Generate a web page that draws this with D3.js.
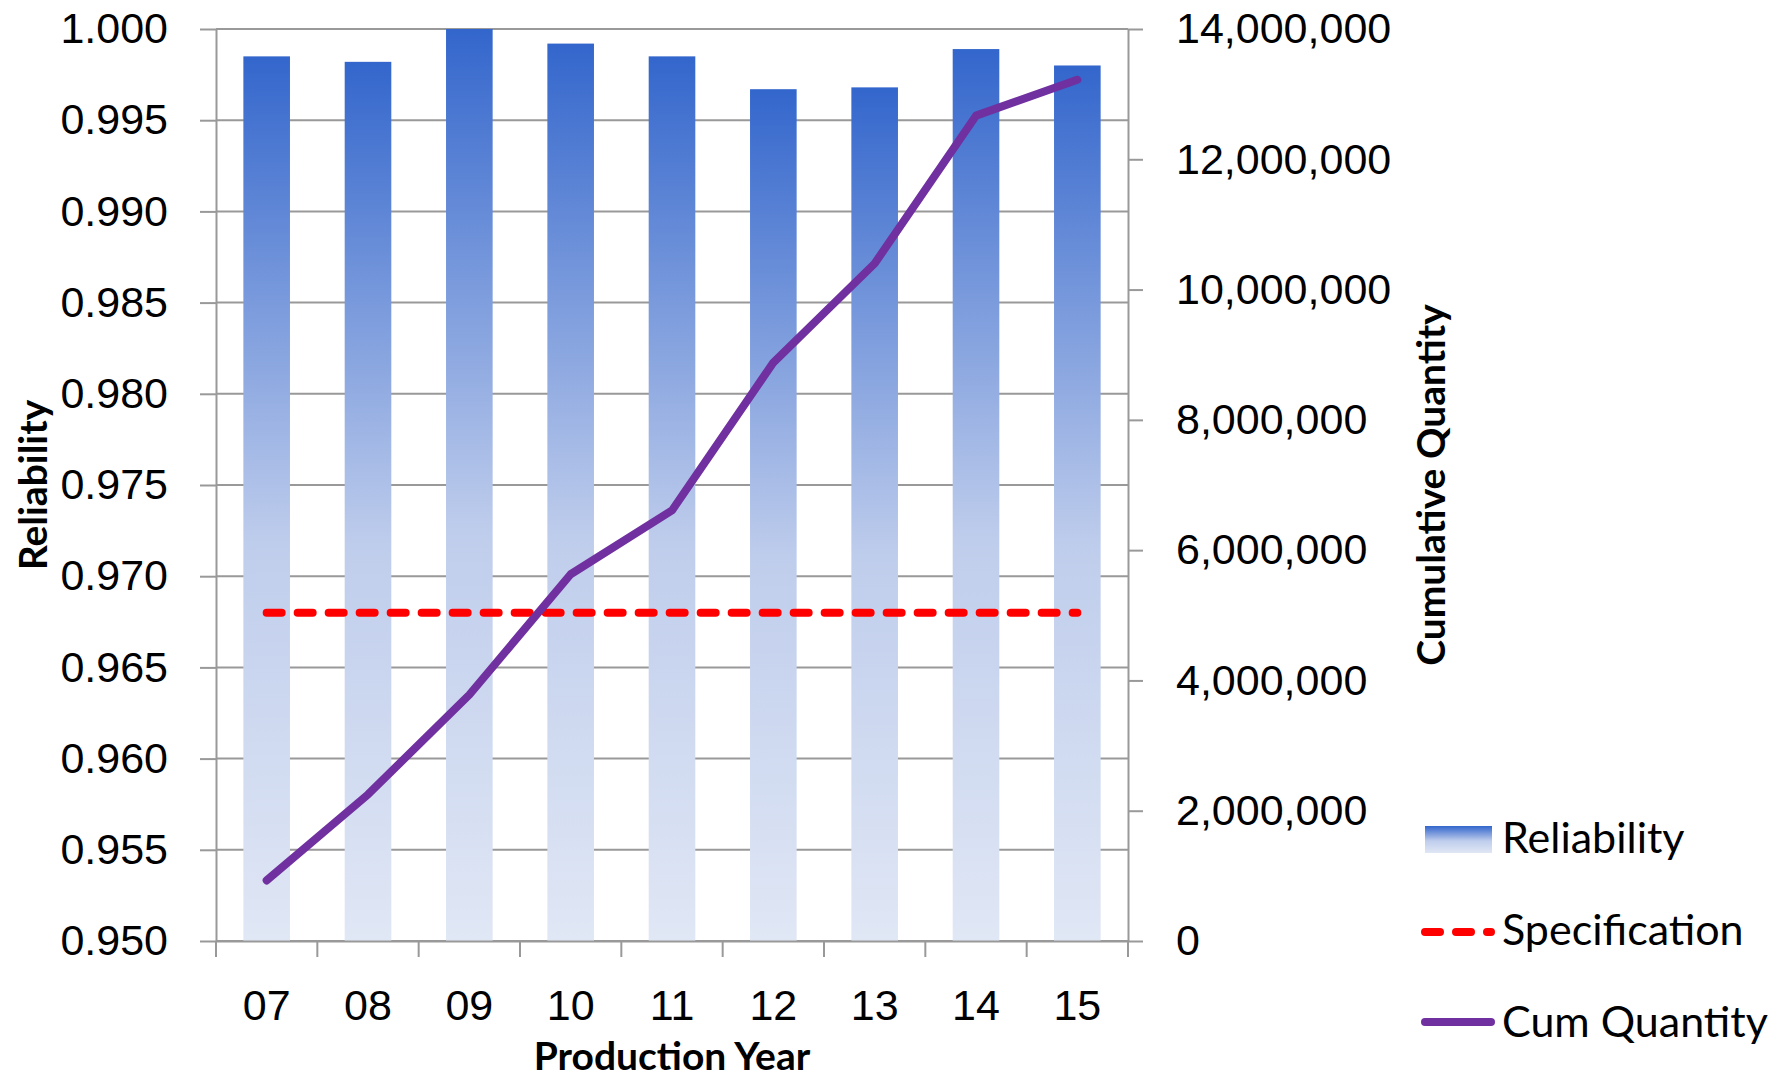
<!DOCTYPE html>
<html>
<head>
<meta charset="utf-8">
<script src="https://cdn.jsdelivr.net/npm/d3@7"></script>
<style>
  body { margin: 0; background: #fff; }
  svg { display: block; font-family: Lato, "Open Sans", sans-serif; }
  .axis path, .axis line { stroke: #999; stroke-width: 2; }
  .axis text { fill: #000; font-size: 43px; }
</style>
</head>
<body>
<svg id="chart" width="1787" height="1081"></svg>
<script>
  "use strict";

  /***** Data *****/
  var years = ["07", "08", "09", "10", "11", "12", "13", "14", "15"];
  var reliability = [0.9985, 0.9982, 1.0000, 0.9992, 0.9985, 0.9967, 0.9968, 0.9989, 0.9980];
  var specification = [0.968, 0.968, 0.968, 0.968, 0.968, 0.968, 0.968, 0.968, 0.968];
  var cumQuantity = [930000, 2250000, 3780000, 5630000, 6610000, 8880000, 10400000, 12670000, 13220000];
  var leftTicks = [0.950, 0.955, 0.960, 0.965, 0.970, 0.975, 0.980, 0.985, 0.990, 0.995, 1.000];
  var rightTicks = [0, 2000000, 4000000, 6000000, 8000000, 10000000, 12000000, 14000000];
  var legendLabels = ["Reliability", "Specification", "Cum Quantity"];

  /***** Configuration *****/
  var margin = {top: 29, right: 659, bottom: 140, left: 216},
    width = 1787 - margin.left - margin.right,
    height = 1081 - margin.top - margin.bottom;

  var svg = d3.select("#chart");

  // Bar gradient (dark blue on top, fading to pale blue)
  var defs = svg.append("defs");
  var grad = defs.append("linearGradient")
    .attr("id", "barGrad")
    .attr("x1", 0).attr("y1", 0).attr("x2", 0).attr("y2", 1);
  grad.append("stop").attr("offset", "0%").attr("stop-color", "#3366cc");
  grad.append("stop").attr("offset", "55%").attr("stop-color", "#bfcdec");
  grad.append("stop").attr("offset", "100%").attr("stop-color", "#e0e7f5");

  /***** Scales *****/
  var x = d3.scaleBand().domain(years).range([0, width]).paddingInner(0.54).paddingOuter(0.27);
  var yL = d3.scaleLinear().domain([0.95, 1.0]).range([height, 0]);
  var yR = d3.scaleLinear().domain([0, 14000000]).range([height, 0]);

  var g = svg.append("g")
    .attr("transform", "translate(" + margin.left + "," + margin.top + ")");

  // Gridlines
  g.append("g").selectAll("line")
    .data(leftTicks)
    .enter().append("line")
    .attr("x1", 0).attr("x2", width)
    .attr("y1", function (d) { return yL(d); })
    .attr("y2", function (d) { return yL(d); })
    .attr("stroke", "#999").attr("stroke-width", 2);

  // Bars
  g.append("g").selectAll("rect")
    .data(reliability)
    .enter().append("rect")
    .attr("x", function (d, i) { return x(years[i]); })
    .attr("width", x.bandwidth())
    .attr("y", function (d) { return yL(d); })
    .attr("height", function (d) { return height - yL(d); })
    .attr("fill", "url(#barGrad)");

  /***** Axes *****/
  var leftAxis = d3.axisLeft(yL).tickValues(leftTicks).tickSize(16).tickSizeOuter(0)
    .tickPadding(32).tickFormat(d3.format(".3f"));
  g.append("g").attr("class", "axis").call(leftAxis);

  var rightAxis = d3.axisRight(yR).tickValues(rightTicks).tickSize(15).tickSizeOuter(0)
    .tickPadding(33).tickFormat(d3.format(","));
  g.append("g").attr("class", "axis")
    .attr("transform", "translate(" + width + ",0)")
    .call(rightAxis);

  var bottomAxis = d3.axisBottom(x).tickSize(0).tickSizeOuter(0).tickPadding(48);
  var bottomGroup = g.append("g").attr("class", "axis")
    .attr("transform", "translate(0," + height + ")")
    .call(bottomAxis);

  // Category boundary ticks on the bottom axis
  var firstEdge = x(years[0]) - (x.step() - x.bandwidth()) / 2;
  bottomGroup.append("g").selectAll("line")
    .data(d3.range(years.length + 1))
    .enter().append("line")
    .attr("x1", function (i) { return firstEdge + i * x.step(); })
    .attr("x2", function (i) { return firstEdge + i * x.step(); })
    .attr("y1", 0).attr("y2", 16);

  /***** Lines *****/
  var cx = function (i) { return x(years[i]) + x.bandwidth() / 2; };

  var specLine = d3.line()
    .x(function (d, i) { return cx(i); })
    .y(function (d) { return yL(d); });
  g.append("path")
    .datum(specification)
    .attr("d", specLine)
    .attr("fill", "none")
    .attr("stroke", "#ff0000")
    .attr("stroke-width", 8)
    .attr("stroke-linecap", "round")
    .attr("stroke-dasharray", "15,16");

  var cumLine = d3.line()
    .x(function (d, i) { return cx(i); })
    .y(function (d) { return yR(d); });
  g.append("path")
    .datum(cumQuantity)
    .attr("d", cumLine)
    .attr("fill", "none")
    .attr("stroke", "#7030a0")
    .attr("stroke-width", 8)
    .attr("stroke-linecap", "round")
    .attr("stroke-linejoin", "round");

  /***** Axis titles *****/
  svg.append("text")
    .attr("x", margin.left + width / 2).attr("y", 1070)
    .attr("text-anchor", "middle")
    .attr("font-size", 39).attr("font-weight", "bold")
    .text("Production Year");

  svg.append("text")
    .attr("transform", "translate(47," + (margin.top + height / 2) + ") rotate(-90)")
    .attr("text-anchor", "middle")
    .attr("font-size", 39).attr("font-weight", "bold")
    .text("Reliability");

  svg.append("text")
    .attr("transform", "translate(1445," + (margin.top + height / 2) + ") rotate(-90)")
    .attr("text-anchor", "middle")
    .attr("font-size", 39).attr("font-weight", "bold")
    .text("Cumulative Quantity");

  /***** Legend *****/
  var legend = svg.append("g").attr("transform", "translate(1425,0)");
  legend.append("rect")
    .attr("x", 0).attr("y", 826).attr("width", 67).attr("height", 27)
    .attr("fill", "url(#barGrad)");
  legend.append("line")
    .attr("x1", 0).attr("x2", 66).attr("y1", 932).attr("y2", 932)
    .attr("stroke", "#ff0000").attr("stroke-width", 8)
    .attr("stroke-linecap", "round").attr("stroke-dasharray", "15,16");
  legend.append("line")
    .attr("x1", 0).attr("x2", 66).attr("y1", 1022).attr("y2", 1022)
    .attr("stroke", "#7030a0").attr("stroke-width", 8)
    .attr("stroke-linecap", "round");
  legend.selectAll("text.lbl")
    .data(legendLabels)
    .enter().append("text")
    .attr("class", "lbl")
    .attr("x", 77)
    .attr("y", function (d, i) { return 853 + i * 92; })
    .attr("font-size", 43)
    .text(function (d) { return d; });
</script>
</body>
</html>
